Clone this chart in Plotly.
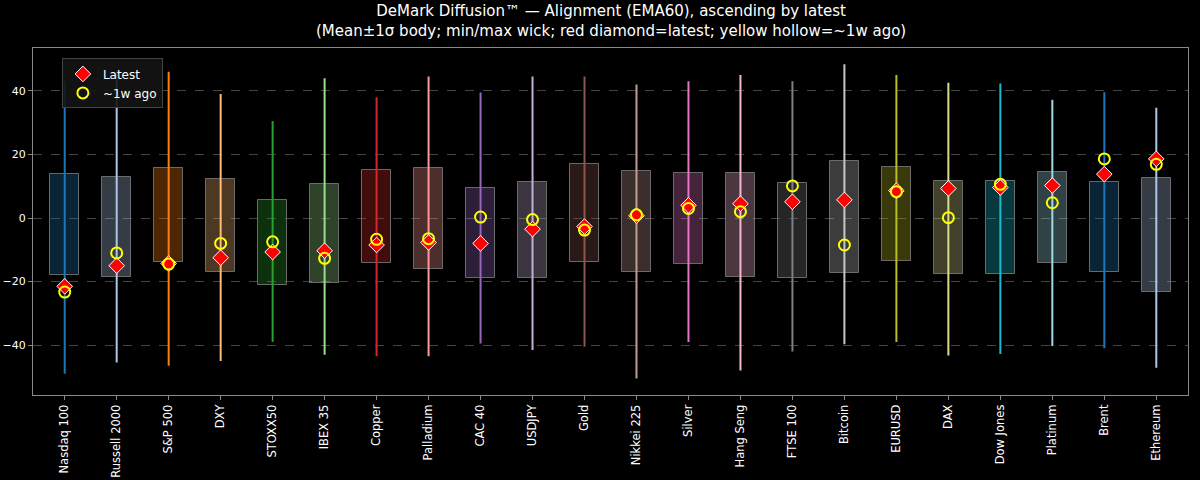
import plotly.graph_objects as go

cats = ["Nasdaq 100","Russell 2000","S&P 500","DXY","STOXX50","IBEX 35","Copper","Palladium","CAC 40","USDJPY","Gold","Nikkei 225","Silver","Hang Seng","FTSE 100","Bitcoin","EURUSD","DAX","Dow Jones","Platinum","Brent","Ethereum"]
wick_max = [43,46,46,39,30.5,44,38,44.5,39.5,44.5,44.5,42,43,45,43,48.4,45,42.6,42.3,37.2,39.6,34.7]
wick_min = [-49,-45.5,-46.5,-45,-39,-43,-43.5,-43.5,-39.5,-41.5,-40.5,-50.5,-39,-48,-42,-39.7,-39,-43.3,-42.8,-40.3,-41,-47.1]
body_hi = [13.7,13,15.7,12.2,5.6,10.7,15,15.7,9.5,11.3,17,14.7,14.3,14.3,10.9,18,16,11.5,11.6,14.6,11.2,12.5]
body_lo = [-18,-18.5,-13.8,-17,-21,-20.5,-14.3,-16,-19,-19,-13.8,-17,-14.5,-18.5,-18.8,-17.2,-13.5,-17.7,-17.7,-14.3,-17.1,-23.3]
latest = [-21.5,-15,-14.3,-12.5,-10.7,-10.3,-8.5,-7.7,-8,-3.5,-2.7,0.7,4,4.5,5.1,5.7,8.6,9.3,9.6,10.2,13.8,18.6]
week_ago = [-23.3,-11,-14.5,-8,-7.5,-12.7,-6.7,-6.5,0.3,-0.5,-3.8,1,3,2,10.1,-8.5,8.3,0.1,10.6,4.8,18.6,16.9]
colors = ["#1f77b4","#aec7e8","#ff7f0e","#ffbb78","#2ca02c","#98df8a","#d62728","#ff9896","#9467bd","#c5b0d5","#8c564b","#c49c94","#e377c2","#f7b6d2","#7f7f7f","#c7c7c7","#bcbd22","#dbdb8d","#17becf","#9edae5","#1f77b4","#aec7e8"]
title_text = "DeMark Diffusion™ — Alignment (EMA60), ascending by latest<br>(Mean±1σ body; min/max wick; red diamond=latest; yellow hollow=~1w ago)"

def rgba(h, a):
    h = h.lstrip("#")
    return f"rgba({int(h[0:2],16)},{int(h[2:4],16)},{int(h[4:6],16)},{a})"

idx = list(range(len(cats)))
fig = go.Figure()
fig.add_trace(go.Bar(x=idx, y=[h - l for h, l in zip(body_hi, body_lo)], base=body_lo, width=0.55,
                     marker=dict(color=[rgba(c, 0.3) for c in colors], line=dict(color="rgba(128,128,128,0.8)", width=1)),
                     showlegend=False, hoverinfo="skip"))
for i in idx:
    fig.add_trace(go.Scatter(x=[i, i], y=[wick_min[i], wick_max[i]], mode="lines",
                             line=dict(color=colors[i], width=2), showlegend=False, hoverinfo="skip"))
fig.add_trace(go.Scatter(x=idx, y=latest, mode="markers", name="Latest",
                         marker=dict(symbol="diamond", size=12, color="red", line=dict(color="white", width=1))))
fig.add_trace(go.Scatter(x=idx, y=week_ago, mode="markers", name="~1w ago",
                         marker=dict(symbol="circle-open", size=11, color="yellow", line=dict(color="yellow", width=2))))

fig.update_layout(
    width=1200, height=480, paper_bgcolor="black", plot_bgcolor="black",
    font=dict(family="DejaVu Sans", color="white", size=12),
    annotations=[dict(text=title_text, x=0.5, xref="paper", y=1, yref="paper", yanchor="bottom",
                      yshift=6, showarrow=False, font=dict(size=15), align="center")],
    margin=dict(l=33, r=12, t=48, b=85, autoexpand=False),
    showlegend=True,
    legend=dict(x=0.025, y=0.97, xanchor="left", yanchor="top", bgcolor="rgba(20,20,20,0.9)",
                bordercolor="#444", borderwidth=1, font=dict(size=12)),
    bargap=0,
)
fig.update_xaxes(range=[-0.61, 21.61], tickmode="array", tickvals=idx, ticktext=cats, tickangle=-90,
                 showgrid=False, zeroline=False, showline=True, linecolor="#888", mirror=True,
                 ticks="outside", ticklen=4, tickcolor="#888", tickfont=dict(size=11.5), automargin=False)
fig.update_yaxes(range=[-55.7, 53.5], tickvals=[-40, -20, 0, 20, 40], showgrid=True, gridcolor="#444",
                 griddash="dash", zeroline=False, showline=True, linecolor="#888", mirror=True,
                 ticks="outside", ticklen=4, tickcolor="#888", tickfont=dict(size=11), automargin=False)
fig.write_html("out.html", config={"displayModeBar": False},
               post_script="document.body.style.margin='0';document.body.style.background='black';")
